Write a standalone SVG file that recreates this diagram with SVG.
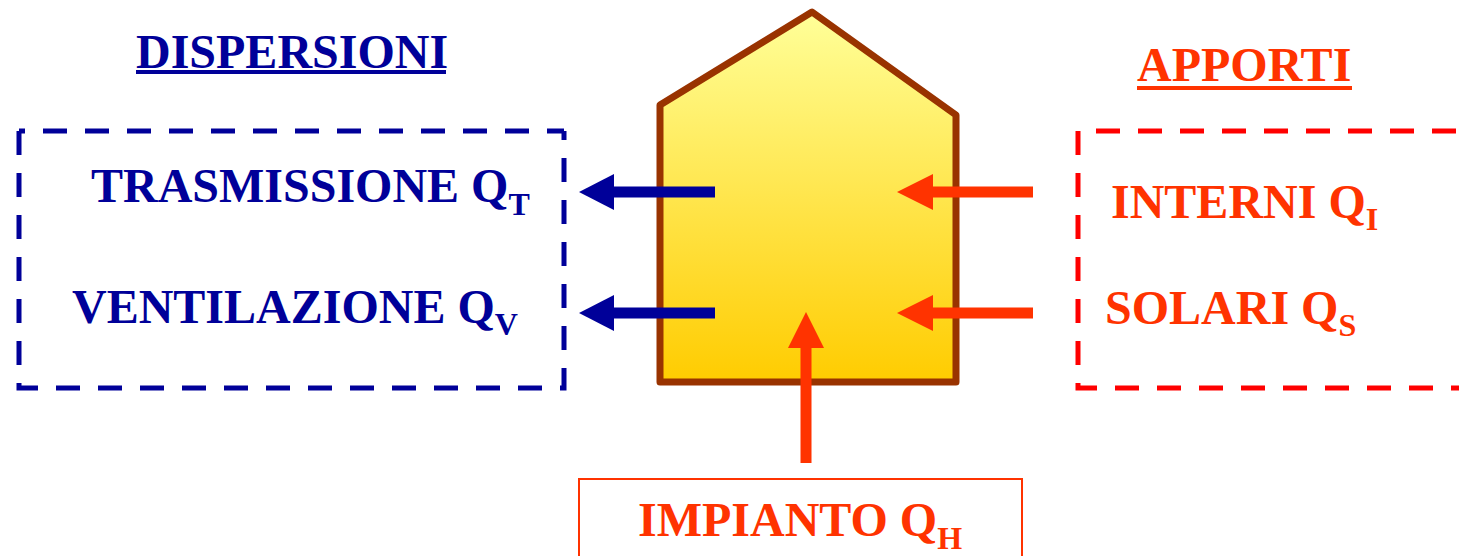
<svg xmlns="http://www.w3.org/2000/svg" width="1459" height="556" viewBox="0 0 1459 556">
<style>
text{font-family:"Liberation Serif","Times New Roman",serif;font-weight:bold;font-size:48px}
.blue{fill:#000099}
.red{fill:#FF3300}
.sub{font-size:32px}
.dashb{fill:none;stroke:#000099;stroke-width:5;stroke-dasharray:24 18}
.dashr{fill:none;stroke:#FF0000;stroke-width:5;stroke-dasharray:24 18}
.ab{stroke:#000099;stroke-width:11;fill:none}
.ar{stroke:#FF3300;stroke-width:11;fill:none}
.hb{fill:#000099}
.hr{fill:#FF3300}
</style>
<defs>
<linearGradient id="g" x1="0" y1="0" x2="0" y2="1">
<stop offset="0" stop-color="#FFFF99"/>
<stop offset="1" stop-color="#FFCC00"/>
</linearGradient>
</defs>
<rect width="1459" height="556" fill="#FFFFFF"/>
<g id="dispersioni">
<text class="blue" x="136" y="68">DISPERSIONI</text>
<rect x="136" y="70" width="310" height="4" fill="#000099"/>
<path class="dashb" d="M19,131 V388 H564 V131"/>
<path class="dashb" d="M19,131 H564" stroke-dashoffset="18"/>
<text class="blue" x="91" y="202">TRASMISSIONE Q<tspan class="sub" dy="13">T</tspan></text>
<text class="blue" x="72" y="323">VENTILAZIONE Q<tspan class="sub" dy="12">V</tspan></text>
</g>
<g id="apporti">
<text class="red" x="1137" y="81">APPORTI</text>
<rect x="1137" y="86" width="215" height="4" fill="#FF3300"/>
<path class="dashr" d="M1078,131 V388 H1470"/>
<path class="dashr" d="M1078,131 H1470" stroke-dashoffset="24"/>
<text class="red" x="1111" y="218">INTERNI Q<tspan class="sub" dy="12">I</tspan></text>
<text class="red" x="1105" y="324">SOLARI Q<tspan class="sub" dy="12">S</tspan></text>
</g>
<g id="edificio">
<path d="M660,105 L812,12 L956,115 L956,382 L660,382 Z" fill="url(#g)" stroke="#993300" stroke-width="7" stroke-linejoin="round"/>
</g>
<g id="impianto">
<rect x="579" y="479" width="443" height="90" fill="none" stroke="#FF3300" stroke-width="2"/>
<text class="red" x="638" y="536">IMPIANTO Q<tspan class="sub" dy="13">H</tspan></text>
</g>
<g id="connectors">
<line class="ab" x1="715" y1="192" x2="612" y2="192"/>
<polygon class="hb" points="579,192 614,174 614,210"/>
<line class="ab" x1="715" y1="313" x2="612" y2="313"/>
<polygon class="hb" points="579,313 614,295 614,331"/>
<line class="ar" x1="1033" y1="192" x2="930" y2="192"/>
<polygon class="hr" points="897,192 933,174 933,210"/>
<line class="ar" x1="1033" y1="313" x2="930" y2="313"/>
<polygon class="hr" points="897,313 933,295 933,331"/>
<line class="ar" x1="806" y1="463" x2="806" y2="345" stroke-width="12"/>
<polygon class="hr" points="806,312 788,348 824,348"/>
</g>
</svg>
